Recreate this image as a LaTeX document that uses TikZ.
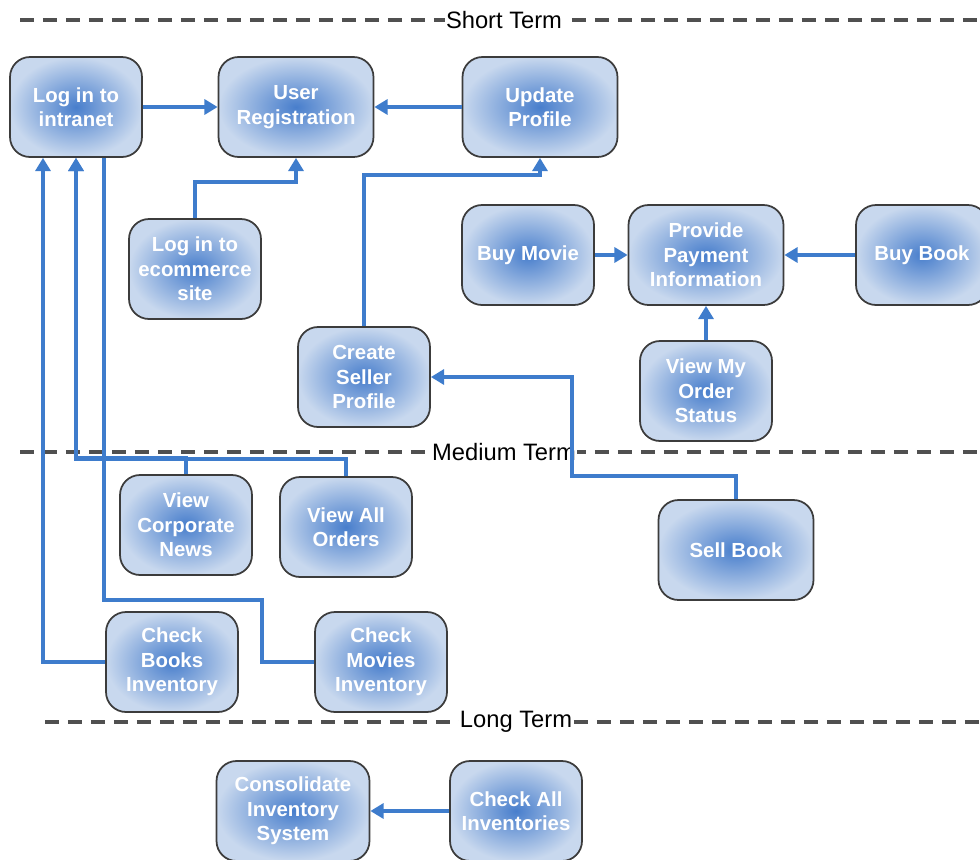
\documentclass[tikz,border=0pt]{standalone}
\usepackage{fontspec}
\setmainfont{Liberation Sans}
\usetikzlibrary{arrows.meta,calc}
\definecolor{ink}{RGB}{60,60,60}
\definecolor{wire}{RGB}{62,124,204}
\definecolor{core}{RGB}{72,126,204}
\definecolor{rim}{RGB}{200,216,238}
\tikzset{
  every picture/.style={x=0.02cm, y=0.02cm},
  task/.style={draw=ink, line width=1pt, rounded corners=0.4cm, shading=radial, inner color=core, outer color=rim,
    minimum width=2.64cm, minimum height=2cm, align=center, text=white, inner sep=2pt,
    font=\bfseries\fontsize{11.6}{13.9}\selectfont},
  widetask/.style={task, minimum width=3.1cm},
  span/.style={draw=ink!90, line width=1.8pt, dash pattern=on 0.29cm off 0.17cm},
  term/.style={fill=white, inner sep=0.5pt, text=black, font=\fontsize{13.5}{16}\selectfont},
  flow/.style={-{Triangle[length=7.5pt,width=8.5pt]}, draw=wire, line width=2pt},
  link/.style={draw=wire, line width=2pt},
}
\begin{document}
\begin{tikzpicture}
  \useasboundingbox (0,0) rectangle (980,-859);
  % horizon bands, dashed, with their names on top
  \foreach \a/\y/\c/\t in {20/-20/504/Short Term,20/-452/504/Medium Term,45/-722/516/Long Term} {
    \coordinate (l\y) at (\a,\y); \coordinate (r\y) at (985,\y);
    \draw[span] (l\y) -- (r\y);
    \node[term] at (\c,\y) {\t};
  }
  % short term
  \node[task] (intranet) at (76,-107) {Log in to\\ intranet};
  \node[widetask] (userreg) at (296,-107) {User\\ Registration};
  \node[widetask] (update) at (540,-107) {Update\\ Profile};
  \node[task] (ecom) at (195,-269) {Log in to\\ ecommerce\\ site};
  \node[task] (buymovie) at (528,-255) {Buy Movie};
  \node[widetask] (payment) at (706,-255) {Provide\\ Payment\\ Information};
  \node[task] (buybook) at (922,-255) {Buy Book};
  \node[task] (seller) at (364,-377) {Create\\ Seller\\ Profile};
  \node[task] (status) at (706,-391) {View My\\ Order\\ Status};
  % medium term
  \node[task] (news) at (186,-525) {View\\ Corporate\\ News};
  \node[task] (orders) at (346,-527) {View All\\ Orders};
  \node[widetask] (sellbook) at (736,-550) {Sell Book};
  \node[task] (books) at (172,-662) {Check\\ Books\\ Inventory};
  \node[task] (movies) at (381,-662) {Check\\ Movies\\ Inventory};
  % long term
  \node[widetask, minimum width=3.06cm] (consol) at (293,-811) {Consolidate\\ Inventory\\ System};
  \node[task] (allinv) at (516,-811) {Check All\\ Inventories};
  \coordinate (sb) at (572,-476);
  \coordinate (mv) at (262,-600);
  \draw[flow] (intranet) -- (userreg);
  \draw[flow] (update) -- (userreg);
  \draw[flow] (ecom.north) -- ++(0,36) -| (userreg.south);
  \draw[flow] (seller.north) -- ++(0,151) -| (update.south);
  \draw[flow] (buymovie) -- (payment);
  \draw[flow] (buybook) -- (payment);
  \draw[flow] (status) -- (payment);
  \draw[flow] (sellbook.north) |- (sb) |- (seller.east);
  \draw[flow] (news.north) -- ++(0,16) -| (intranet.south);
  \draw[flow] (orders.north) -- ++(0,17) -| (intranet.south);
  \draw[flow] (books.west) -| ($(intranet.south)+(-33,0)$);
  \draw[link] (movies.west) -| (mv) -| ($(intranet.south)+(28,0)$);
  \draw[flow] (allinv) -- (consol);
\end{tikzpicture}
\end{document}
